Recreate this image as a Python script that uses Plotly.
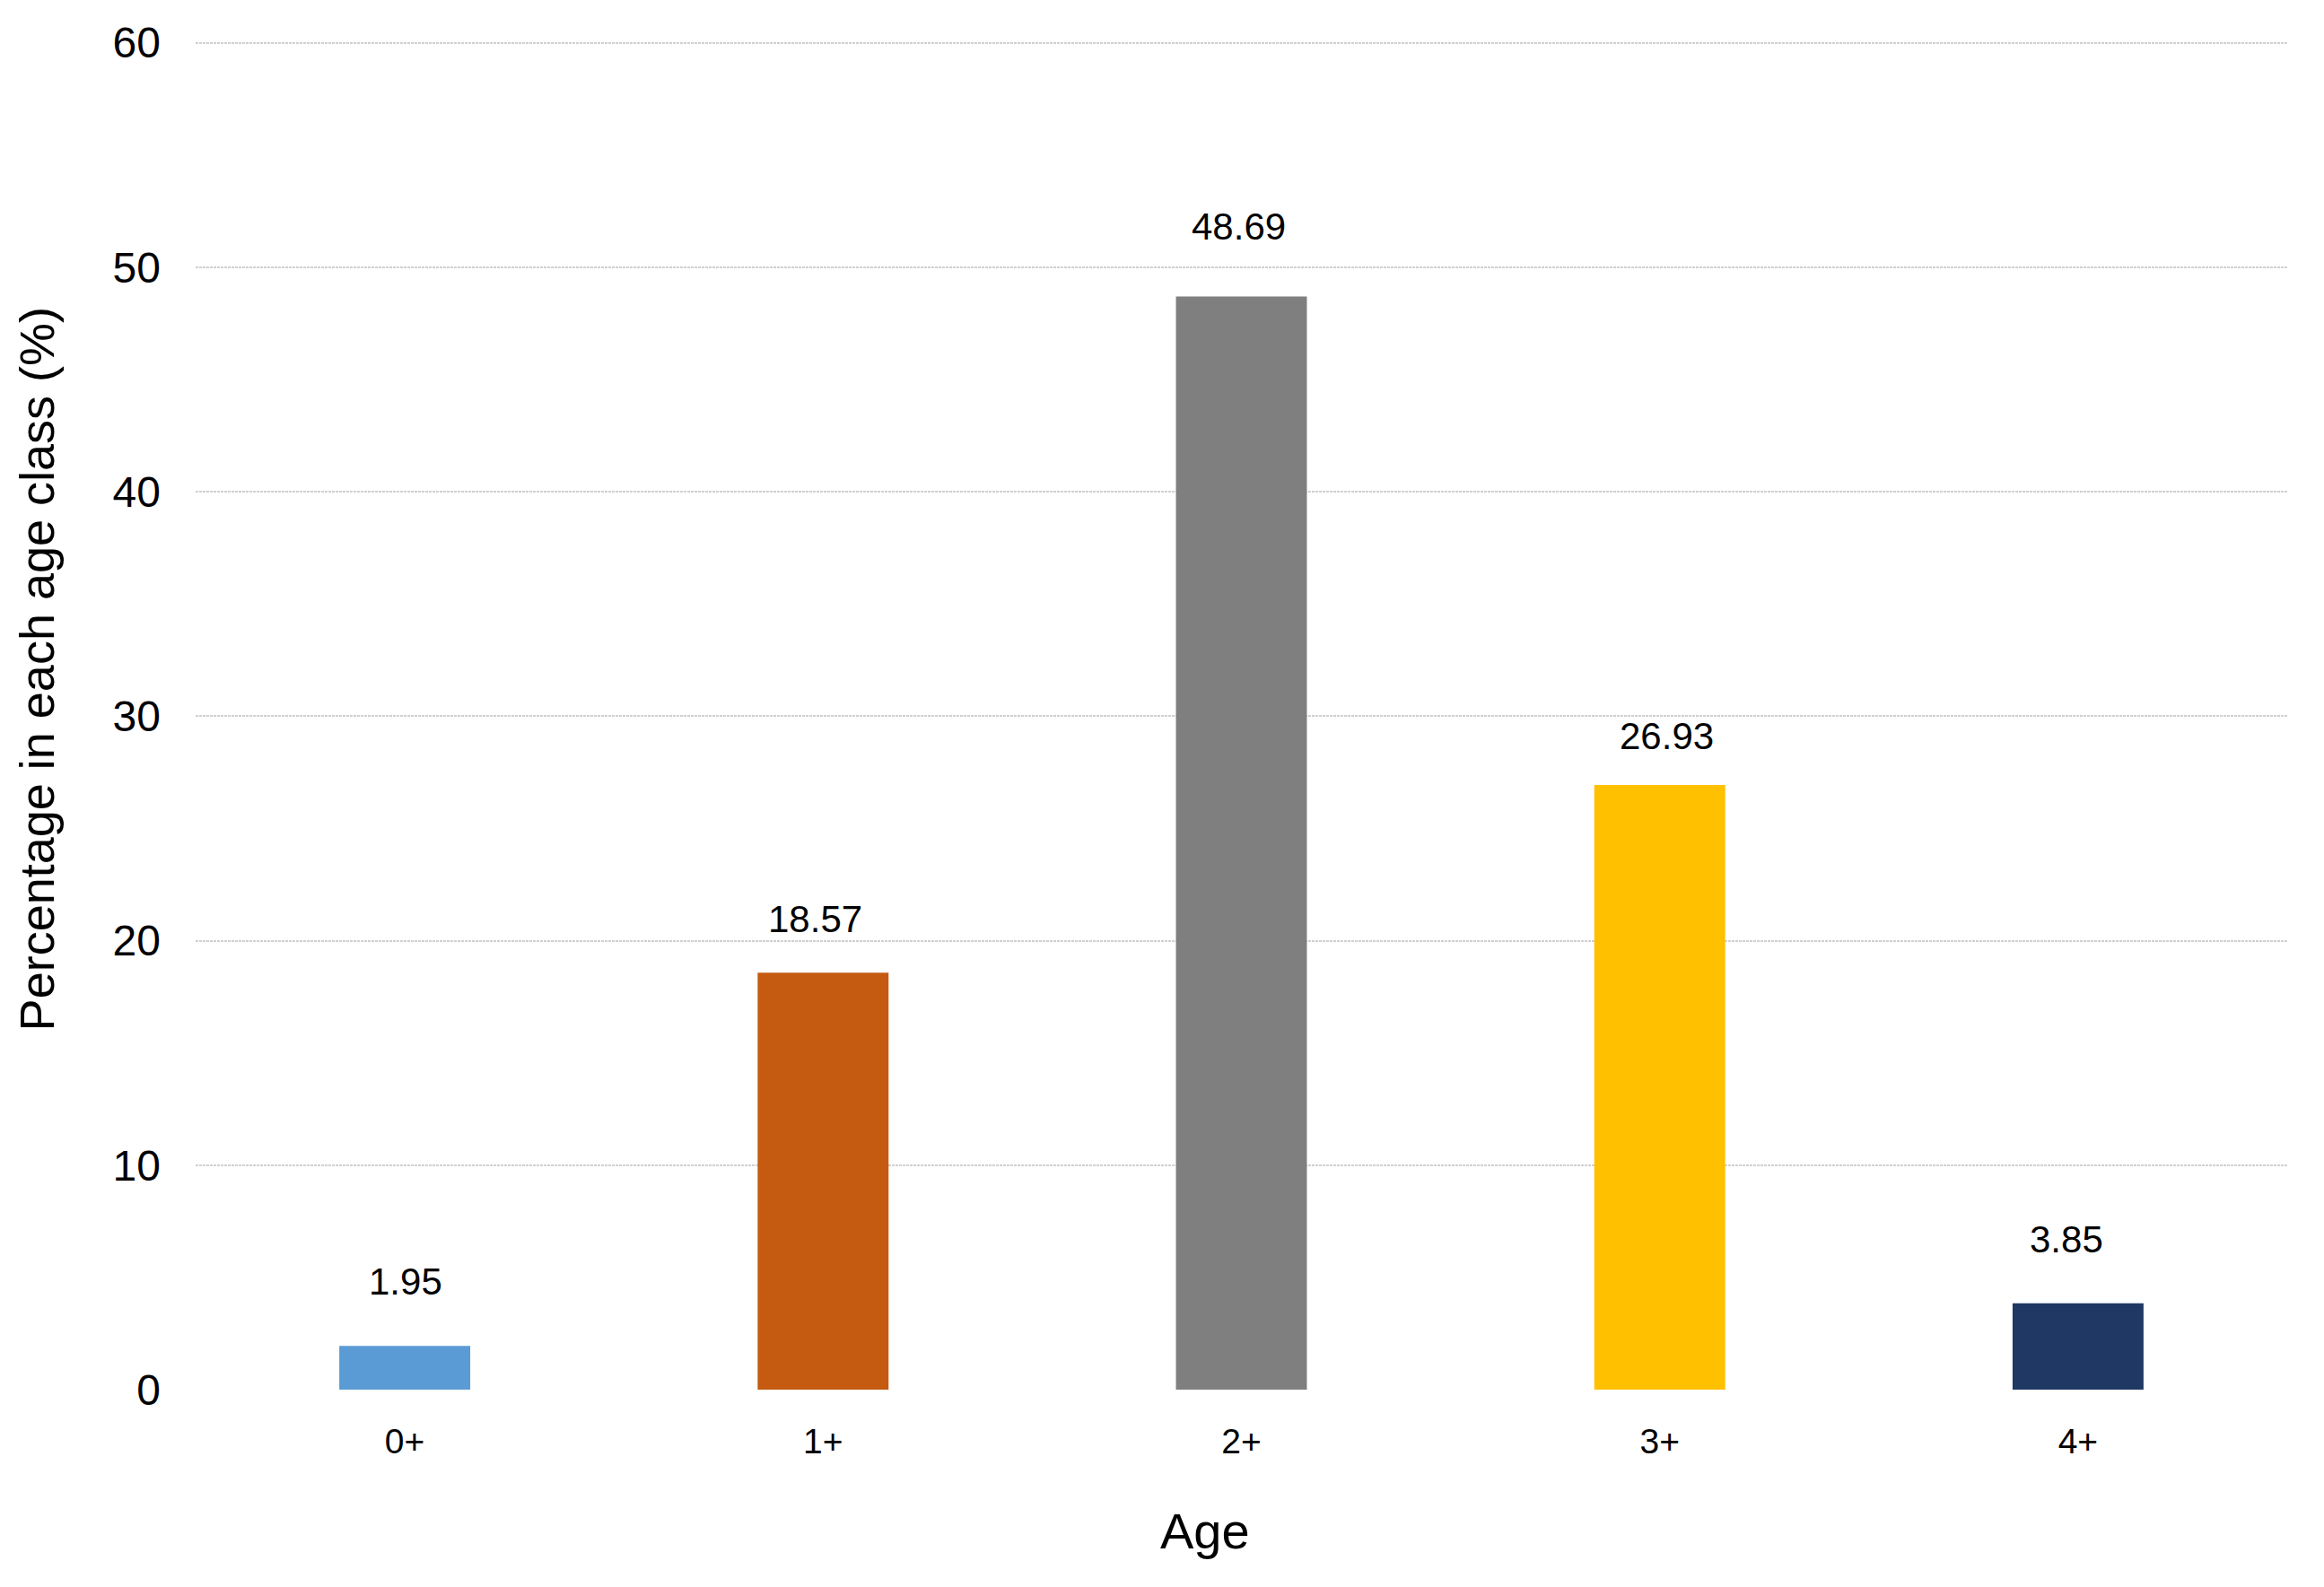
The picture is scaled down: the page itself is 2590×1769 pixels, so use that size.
import plotly.graph_objects as go

categories = ["0+", "1+", "2+", "3+", "4+"]
values = [1.95, 18.57, 48.69, 26.93, 3.85]
value_labels = ["1.95", "18.57", "48.69", "26.93", "3.85"]
y_ticks = [0, 10, 20, 30, 40, 50, 60]

bar_colors = ["#5b9bd5", "#c55a11", "#7f7f7f", "#ffc000", "#203864"]
label_yoffsets = [52, 40, 59, 35, 52]  # px gap between bar top and label
label_xoffsets = [1, -9, -3, 8, -13]

FONT = "Arial, Liberation Sans, sans-serif"

fig = go.Figure()
fig.add_trace(go.Bar(
    x=categories,
    y=values,
    width=0.313,
    marker=dict(color=bar_colors, line=dict(width=0)),
    showlegend=False,
))

for c, v, t, yo, xo in zip(categories, values, value_labels, label_yoffsets, label_xoffsets):
    fig.add_annotation(
        x=c, y=v, xref="x", yref="y", text=t, showarrow=False,
        yanchor="bottom", yshift=yo - 6, xshift=xo,
        font=dict(family=FONT, size=42, color="#000000"),
    )

fig.add_annotation(
    xref="paper", yref="paper", x=-0.0759, y=0.5337,
    text="Percentage in each age class (%)", textangle=-90, showarrow=False,
    xanchor="center", yanchor="middle",
    font=dict(family=FONT, size=54, color="#000000"),
)
fig.add_annotation(
    xref="paper", yref="paper", x=0.4826, y=-0.1046,
    text="Age", showarrow=False, xanchor="center", yanchor="middle",
    font=dict(family=FONT, size=56, color="#000000"),
)

fig.update_layout(
    width=2582, height=1761,
    margin=dict(l=210, r=41, t=37, b=220),
    paper_bgcolor="white", plot_bgcolor="white",
    font=dict(family=FONT, color="#000000"),
)
fig.update_xaxes(
    showgrid=False, showline=False, zeroline=False,
    tickfont=dict(family=FONT, size=39, color="#000000"),
    ticklabelstandoff=31,
)
fig.update_yaxes(
    range=[0, 60.1], tickvals=y_ticks, ticktext=[str(t) for t in y_ticks],
    showgrid=True, gridcolor="#d0d0d0", gridwidth=2, griddash="3px,1px",
    zeroline=False, showline=False,
    tickfont=dict(family=FONT, size=48, color="#000000"),
    ticklabelstandoff=38,
)

fig.write_html("out.html")
